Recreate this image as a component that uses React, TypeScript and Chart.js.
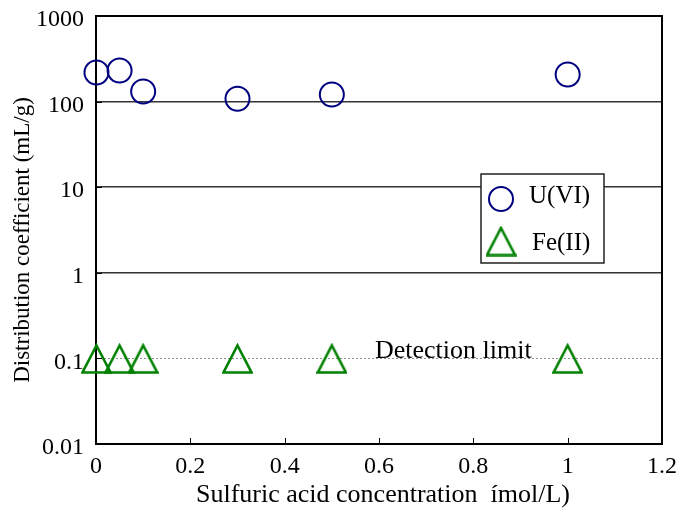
import React, { useEffect, useRef } from 'react';
import { Chart, registerables } from 'chart.js';
Chart.register(...registerables);

const concentrations = [0.001, 0.05, 0.1, 0.3, 0.5, 1.0];
const uVI = [219, 231, 131, 108, 121, 207];
const feII = [0.1, 0.1, 0.1, 0.1, 0.1, 0.1];
const yTickValues = [0.01, 0.1, 1, 10, 100, 1000];
const yTickLabels = ['0.01', '0.1', '1', '10', '100', '1000'];
const xTickValues = [0, 0.2, 0.4, 0.6, 0.8, 1, 1.2];
const xTickLabels = ['0', '0.2', '0.4', '0.6', '0.8', '1', '1.2'];
const detectionLimit = 0.1;
const seriesNames = ['U(VI)', 'Fe(II)'];
const xTitle = 'Sulfuric acid concentration  ímol/L)';
const yTitle = 'Distribution coefficient (mL/g)';
const detectionText = 'Detection limit';

const SERIF = "'Liberation Serif', 'Times New Roman', serif";
const NAVY = '#000080';
const GREEN = '#008000';

function makeTriangle(size: number, color: string) {
  const c = document.createElement('canvas');
  c.width = size;
  c.height = size;
  const g = c.getContext('2d')!;
  g.strokeStyle = color;
  g.lineWidth = 2.6;
  g.lineJoin = 'miter';
  g.beginPath();
  g.moveTo(size / 2, 2.5);
  g.lineTo(size - 1.5, size - 1.5);
  g.lineTo(1.5, size - 1.5);
  g.closePath();
  g.stroke();
  return c;
}

export default function App() {
  const ref = useRef<HTMLCanvasElement>(null);
  useEffect(() => {
    document.body.style.margin = '0';
    const tri = makeTriangle(31, GREEN);
    const decor = {
      id: 'decor',
      beforeDatasetsDraw(chart: any) {
        const { ctx, chartArea: a, scales } = chart;
        const x = scales.x;
        const y = scales.y;
        ctx.save();
        const yd = Math.round(y.getPixelForValue(detectionLimit)) + 0.5;
        ctx.strokeStyle = '#8c8c8c';
        ctx.lineWidth = 1;
        ctx.setLineDash([2, 2]);
        ctx.beginPath();
        ctx.moveTo(a.left, yd);
        ctx.lineTo(a.right, yd);
        ctx.stroke();
        ctx.setLineDash([]);
        ctx.strokeStyle = '#000';
        ctx.lineWidth = 2;
        ctx.strokeRect(a.left, a.top, a.right - a.left, a.bottom - a.top);
        ctx.lineWidth = 1;
        ctx.beginPath();
        xTickValues.forEach((v) => {
          const px = Math.round(x.getPixelForValue(v)) + 0.5;
          ctx.moveTo(px, a.bottom);
          ctx.lineTo(px, a.bottom - 6);
        });
        yTickValues.forEach((v) => {
          const py = Math.round(y.getPixelForValue(v)) + 0.5;
          ctx.moveTo(a.left, py);
          ctx.lineTo(a.left + 6, py);
        });
        ctx.stroke();
        ctx.fillStyle = '#000';
        ctx.font = `26px ${SERIF}`;
        ctx.textAlign = 'left';
        ctx.textBaseline = 'alphabetic';
        ctx.fillText(detectionText, x.getPixelForValue(0.5915), yd - 1);
        // axis titles
        ctx.textAlign = 'center';
        ctx.textBaseline = 'middle';
        ctx.font = `26px ${SERIF}`;
        ctx.fillText(xTitle, (a.left + a.right) / 2 + 4, a.bottom + 51);
        ctx.save();
        ctx.translate(23, (a.top + a.bottom) / 2 + 10);
        ctx.rotate(-Math.PI / 2);
        ctx.font = `23px ${SERIF}`;
        ctx.fillText(yTitle, 0, 0);
        ctx.restore();
        ctx.restore();
      },
      afterDatasetsDraw(chart: any) {
        const { ctx, chartArea: a } = chart;
        ctx.save();
        const bl = a.left + 385;
        const bt = a.top + 158;
        const bw = 123;
        const bh = 89;
        ctx.fillStyle = '#fff';
        ctx.fillRect(bl, bt, bw, bh);
        ctx.strokeStyle = '#222';
        ctx.lineWidth = 1.5;
        ctx.strokeRect(bl, bt, bw, bh);
        ctx.strokeStyle = NAVY;
        ctx.lineWidth = 2;
        ctx.beginPath();
        ctx.arc(bl + 20, bt + 25, 12, 0, Math.PI * 2);
        ctx.stroke();
        ctx.drawImage(tri, bl + 20 - tri.width / 2, bt + 67 - tri.height / 2);
        ctx.font = `25px ${SERIF}`;
        ctx.fillStyle = '#000';
        ctx.textAlign = 'left';
        ctx.textBaseline = 'middle';
        ctx.fillText(seriesNames[0], bl + 48, bt + 22);
        ctx.fillText(seriesNames[1], bl + 51, bt + 69);
        ctx.restore();
      },
    };
    const chart = new Chart(ref.current!, {
      type: 'scatter',
      data: {
        datasets: [
          {
            label: seriesNames[0],
            data: concentrations.map((c, i) => ({ x: c, y: uVI[i] })),
            pointStyle: 'circle',
            pointRadius: 12,
            pointHoverRadius: 12,
            borderColor: NAVY,
            backgroundColor: 'rgba(0,0,0,0)',
            borderWidth: 2,
            clip: false as any,
          },
          {
            label: seriesNames[1],
            data: concentrations.map((c, i) => ({ x: c, y: feII[i] })),
            pointStyle: tri as any,
            pointRadius: 15,
            borderColor: GREEN,
            backgroundColor: 'rgba(0,0,0,0)',
            clip: false as any,
          },
        ],
      },
      plugins: [decor],
      options: {
        responsive: false,
        animation: false,
        devicePixelRatio: 1,
        events: [],
        layout: { padding: { top: 16, right: 21, left: 0, bottom: 0 } },
        plugins: { legend: { display: false }, tooltip: { enabled: false } },
        scales: {
          x: {
            type: 'linear',
            min: 0,
            max: 1.2,
            afterBuildTicks: (s: any) => {
              s.ticks = xTickValues.map((v) => ({ value: v }));
            },
            afterFit: (s: any) => {
              s.height = 66;
              s.paddingLeft = 0;
              s.paddingRight = 0;
            },
            ticks: {
              callback: (v: any) => xTickLabels[xTickValues.indexOf(Number(v))],
              font: { family: SERIF, size: 24 },
              color: '#000',
              padding: 8,
              maxRotation: 0,
              autoSkip: false,
            },
            grid: { display: false, drawTicks: false },
            border: { display: false },
            title: { display: false },
          },
          y: {
            type: 'logarithmic',
            min: 0.01,
            max: 1000,
            afterBuildTicks: (s: any) => {
              s.ticks = yTickValues.map((v) => ({ value: v }));
            },
            afterFit: (s: any) => {
              s.width = 96;
              s.paddingTop = 0;
              s.paddingBottom = 0;
            },
            ticks: {
              callback: (v: any) => yTickLabels[yTickValues.indexOf(Number(v))],
              font: { family: SERIF, size: 24 },
              color: '#000',
              padding: 12,
              labelOffset: 4,
              autoSkip: false,
            },
            grid: {
              drawTicks: false,
              lineWidth: 1.5,
              color: (c: any) => {
                const v = c.tick && c.tick.value;
                return v === 1 || v === 10 || v === 100 ? '#333' : 'rgba(0,0,0,0)';
              },
            },
            border: { display: false },
            title: { display: false },
          },
        },
      },
    });
    return () => chart.destroy();
  }, []);
  return (
    <div style={{ width: 683, height: 510 }}>
      <canvas ref={ref} width={683} height={510} />
    </div>
  );
}
